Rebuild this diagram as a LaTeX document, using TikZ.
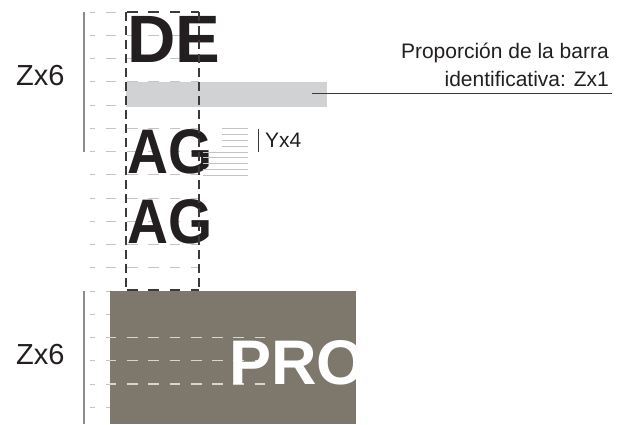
\documentclass[tikz,border=0pt]{standalone}
\usepackage{fontspec}
\setmainfont{Liberation Sans}
\usepackage{graphicx}
\definecolor{gridgray}{HTML}{C4C4C4}
\definecolor{rulegray}{HTML}{8C8C8C}
\definecolor{rectdark}{HTML}{3A3A3A}
\definecolor{barfill}{HTML}{D1D2D4}
\definecolor{brown}{HTML}{7E776C}
\definecolor{lightdash}{HTML}{D6D6D6}
\definecolor{inkblack}{HTML}{231F20}
\tikzset{
  gridline/.style={draw=gridgray, line width=0.9pt, dash pattern=on 10.7pt off 10.6pt, dash phase=5.7pt},
  gridlight/.style={draw=lightdash, line width=1.1pt, dash pattern=on 10.7pt off 10.6pt, dash phase=5.7pt},
  rectedge/.style={draw=rectdark, line width=1.2pt, dash pattern=on 10.7pt off 10.6pt, dash phase=5.7pt},
  rectside/.style={draw=rectdark, line width=1.2pt, dash pattern=on 9pt off 5pt},
  sideline/.style={draw=rulegray, line width=1.3pt},
  yline/.style={draw=gridgray, line width=0.8pt},
  label/.style={inner sep=0pt, text=inkblack, font=\fontsize{21}{21}\selectfont},
  zlabel/.style={inner sep=0pt, text=inkblack, font=\fontsize{29}{29}\selectfont},
  bigletters/.style={inner sep=0pt, text=inkblack, font=\fontsize{63}{63}\selectfont\bfseries},
}
\begin{document}
\begin{tikzpicture}[x=1pt,y=-1pt]
\useasboundingbox (0,0) rectangle (630,424);
% grid lines, upper block
\foreach \k in {0,...,11} {
  \draw[gridline] (90,12+23.25*\k) -- (199,12+23.25*\k);
}
% grid lines, lower block
\foreach \k in {12,...,17} {
  \draw[gridline] (90,12+23.25*\k) -- (265,12+23.25*\k);
}
% side rules
\draw[sideline] (84,12) -- (84,152);
\draw[sideline] (84,291) -- (84,424);
% identification bar
\fill[barfill] (126,82) rectangle (327,107);
% brown block
\fill[brown] (110,291) rectangle (356,424);
\begin{scope}
  \clip (110,291) rectangle (356,424);
  \foreach \k in {14,15,16} {
    \draw[gridlight] (90,12+23.25*\k) -- (265,12+23.25*\k);
  }
  \node[bigletters, text=white, anchor=base west] (pro) at (229,384) {PRO};
\end{scope}
% letters
\node[bigletters, font=\fontsize{67}{67}\selectfont\bfseries, anchor=base west] (de) at (127,62) {DE};
\node[bigletters, anchor=base west] (ag1) at (127,173) {\scalebox{0.9}[1]{AG}};
\node[bigletters, anchor=base west] (ag2) at (127,243) {\scalebox{0.9}[1]{AG}};
% Yx4 lines
\foreach \j in {0,...,3} {
  \draw[yline] (222,128.75+5.8125*\j) -- (248,128.75+5.8125*\j);
}
\foreach \j in {4,...,8} {
  \draw[yline] (203,128.75+5.8125*\j) -- (248,128.75+5.8125*\j);
}
\draw[draw=rectdark, line width=0.9pt] (258,128.75) -- (258,152);
\node[label, anchor=base west] (yx4) at (265,147.5) {Yx4};
% dashed frame
\draw[rectside] (126,12) -- (126,291);
\draw[rectside] (199,12) -- (199,291);
\begin{scope}
  \clip (124,0) rectangle (201,300);
  \draw[rectedge] (90,12) -- (199,12);
  \draw[rectedge] (90,290) -- (199,290);
\end{scope}
% labels
\node[zlabel, anchor=base west] (zx6a) at (16,85) {Zx6};
\node[zlabel, anchor=base west] (zx6b) at (16,364) {Zx6};
\node[label, anchor=base east] (prop1) at (609,58) {Proporción de la barra};
\node[label, anchor=base east] (prop2) at (609,86) {identificativa: Zx1};
\coordinate (leadA) at (312,93);
\coordinate (leadB) at (612,93);
\draw[draw=rectdark, line width=0.8pt] (leadA) -- (leadB);
\end{tikzpicture}
\end{document}
